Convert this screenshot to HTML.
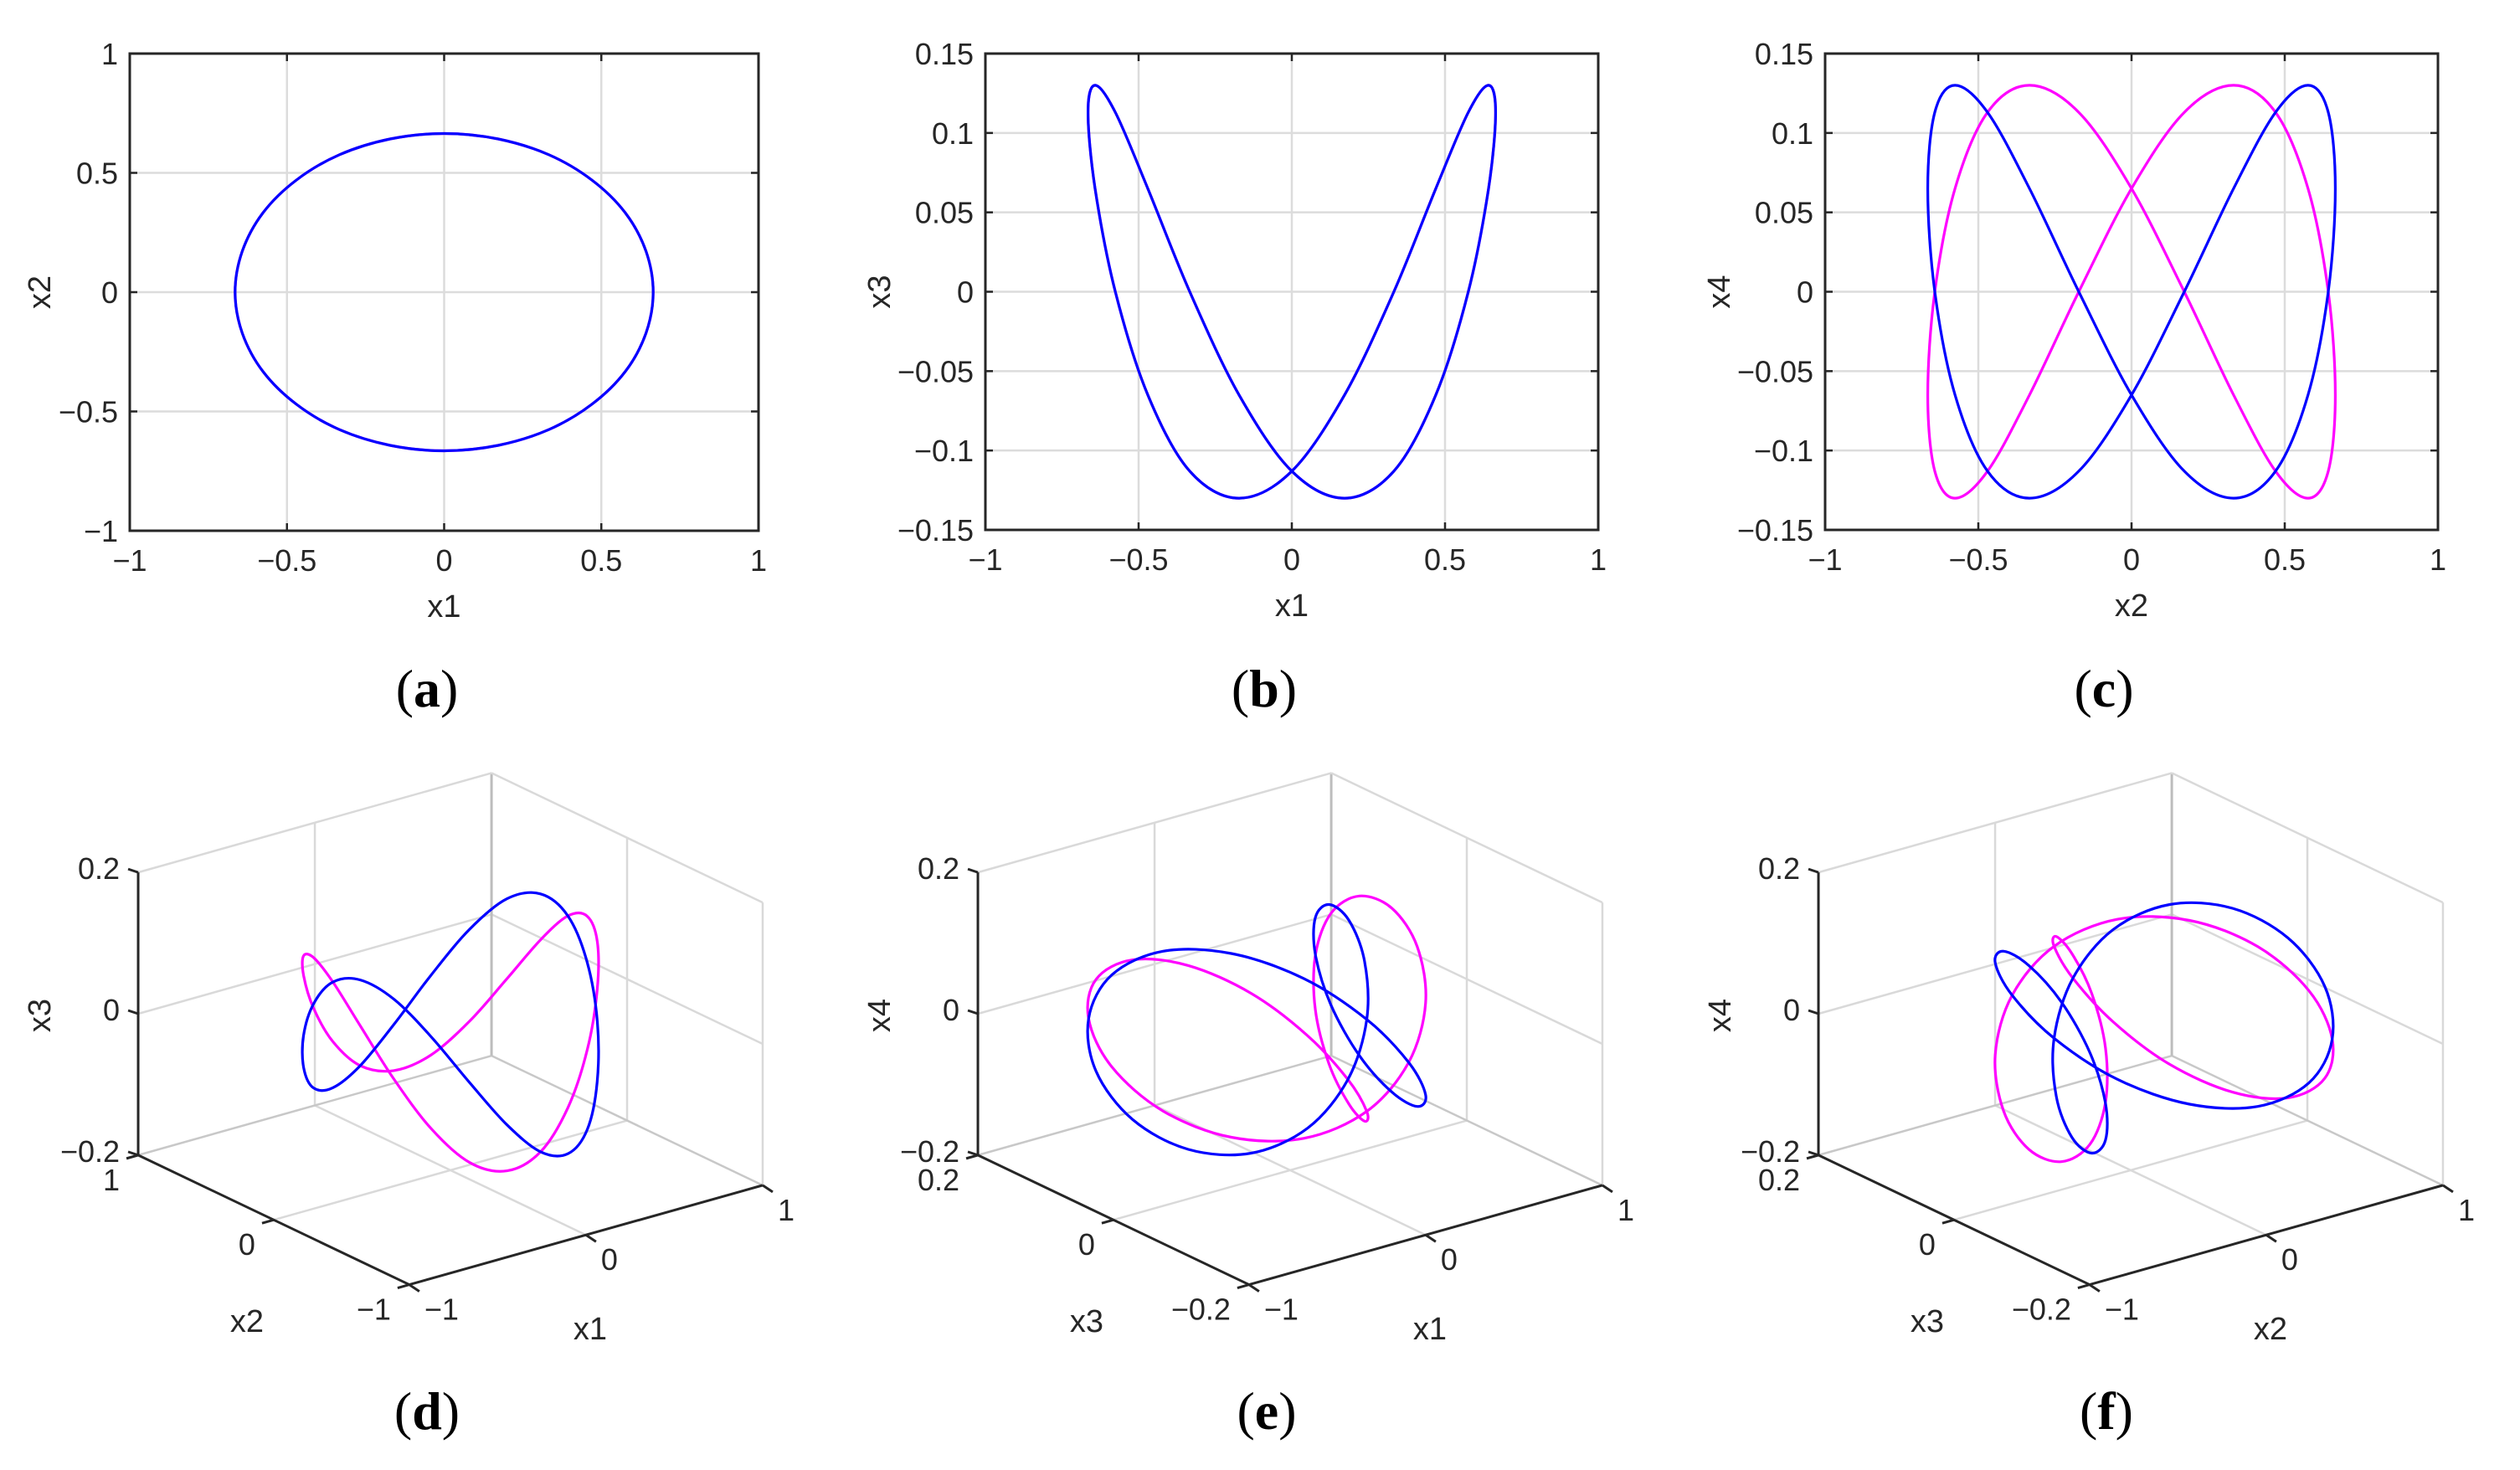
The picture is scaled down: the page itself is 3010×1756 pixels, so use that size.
<!DOCTYPE html>
<html><head><meta charset="utf-8">
<style>
html,body{margin:0;padding:0;background:#fff;}
svg{display:block;font-family:"Liberation Sans",Arial,sans-serif;}
.tk{font-size:36px;fill:#262626;}
.ttl{font-size:38px;fill:#262626;}
.pl{font-family:"Liberation Serif",serif;font-size:64px;fill:#000;}
</style></head>
<body>
<svg id="fig" width="3010" height="1756" viewBox="0 0 3010 1756" xmlns="http://www.w3.org/2000/svg">
<rect width="3010" height="1756" fill="#fff"/>
</svg>
<script>
// ---- data (sampled orbit, 24 points per loop) ----
const blueX1 = [0.665,0.642,0.576,0.470,0.333,0.172,0,-0.172,-0.333,-0.470,-0.576,-0.642,-0.665,-0.642,-0.576,-0.470,-0.333,-0.172,0,0.172,0.333,0.470,0.576,0.642];
const blueX2 = [0,-0.172,-0.333,-0.470,-0.576,-0.642,-0.665,-0.642,-0.576,-0.470,-0.333,-0.172,0,0.172,0.333,0.470,0.576,0.642,0.665,0.642,0.576,0.470,0.333,0.172];
const blueX3 = [0.113,0.065,0,-0.065,-0.113,-0.13,-0.113,-0.065,0,0.065,0.113,0.13,0.113,0.065,0,-0.065,-0.113,-0.13,-0.113,-0.065,0,0.065,0.113,0.13];
const blueX4 = [-0.065,-0.113,-0.13,-0.113,-0.065,0,0.065,0.113,0.13,0.113,0.065,0,-0.065,-0.113,-0.13,-0.113,-0.065,0,0.065,0.113,0.13,0.113,0.065,0];
const magX1 = [0.665,0.642,0.576,0.470,0.333,0.172,0,-0.172,-0.333,-0.470,-0.576,-0.642,-0.665,-0.642,-0.576,-0.470,-0.333,-0.172,0,0.172,0.333,0.470,0.576,0.642];
const magX2 = [0,0.172,0.333,0.470,0.576,0.642,0.665,0.642,0.576,0.470,0.333,0.172,0,-0.172,-0.333,-0.470,-0.576,-0.642,-0.665,-0.642,-0.576,-0.470,-0.333,-0.172];
const magX3 = [0.113,0.065,0,-0.065,-0.113,-0.13,-0.113,-0.065,0,0.065,0.113,0.13,0.113,0.065,0,-0.065,-0.113,-0.13,-0.113,-0.065,0,0.065,0.113,0.13];
const magX4 = [0.065,0.113,0.13,0.113,0.065,0,-0.065,-0.113,-0.13,-0.113,-0.065,0,0.065,0.113,0.13,0.113,0.065,0,-0.065,-0.113,-0.13,-0.113,-0.065,0];
const ticksUnit = [-1,-0.5,0,0.5,1];
const ticksUnitLabels = ["−1","−0.5","0","0.5","1"];
const ticksSmall = [-0.15,-0.1,-0.05,0,0.05,0.1,0.15];
const ticksSmallLabels = ["−0.15","−0.1","−0.05","0","0.05","0.1","0.15"];
const ticks3Unit = [-1,0,1];
const ticks3UnitLabels = ["−1","0","1"];
const ticks3Small = [-0.2,0,0.2];
const ticks3SmallLabels = ["−0.2","0","0.2"];

const NS = "http://www.w3.org/2000/svg";
const svg = document.getElementById('fig');
function mk(tag, attrs, parent){
  const e = document.createElementNS(NS, tag);
  for (const k in attrs) e.setAttribute(k, attrs[k]);
  (parent||svg).appendChild(e);
  return e;
}
function smoothPath(pts){
  const n = pts.length;
  let d = "M" + pts[0][0].toFixed(1) + "," + pts[0][1].toFixed(1);
  for (let i=0;i<n;i++){
    const p0=pts[(i-1+n)%n], p1=pts[i], p2=pts[(i+1)%n], p3=pts[(i+2)%n];
    const c1=[p1[0]+(p2[0]-p0[0])/6, p1[1]+(p2[1]-p0[1])/6];
    const c2=[p2[0]-(p3[0]-p1[0])/6, p2[1]-(p3[1]-p1[1])/6];
    d += "C"+c1[0].toFixed(1)+","+c1[1].toFixed(1)+" "+c2[0].toFixed(1)+","+c2[1].toFixed(1)+" "+p2[0].toFixed(1)+","+p2[1].toFixed(1);
  }
  return d+"Z";
}

// ---- 2D panels ----
function panel2D(name, box, xd, yd, xt, xtl, yt, ytl, xs, ys, xlab, ylab, ylabX, series){
  const g = mk('g', {});
  
  
  const X = v => box.l + (v-xd[0])/(xd[1]-xd[0])*(box.r-box.l);
  const Y = v => box.b - (v-yd[0])/(yd[1]-yd[0])*(box.b-box.t);
  xt.forEach((v,i)=>{
    const l = mk('line',{x1:X(v),x2:X(v),y1:box.t,y2:box.b,stroke:'#dcdcdc','stroke-width':2.5},g);
    
    
    mk('line',{x1:X(v),x2:X(v),y1:box.b,y2:box.b-9,stroke:'#262626','stroke-width':2.5},g);
    mk('line',{x1:X(v),x2:X(v),y1:box.t,y2:box.t+9,stroke:'#262626','stroke-width':2.5},g);
    const t = mk('text',{x:X(v),y:box.b+48,'text-anchor':'middle',class:'tk'},g);
    t.textContent = xtl[i];
    
    
  });
  yt.forEach((v,i)=>{
    const l = mk('line',{x1:box.l,x2:box.r,y1:Y(v),y2:Y(v),stroke:'#dcdcdc','stroke-width':2.5},g);
    
    
    mk('line',{x1:box.l,x2:box.l+9,y1:Y(v),y2:Y(v),stroke:'#262626','stroke-width':2.5},g);
    mk('line',{x1:box.r,x2:box.r-9,y1:Y(v),y2:Y(v),stroke:'#262626','stroke-width':2.5},g);
    const t = mk('text',{x:box.l-14,y:Y(v)+13,'text-anchor':'end',class:'tk'},g);
    t.textContent = ytl[i];
    
    
  });
  series.forEach(s=>{
    const pts = s.x.map((v,i)=>[X(v),Y(s.y[i])]);
    const p = mk('path',{d:smoothPath(pts),fill:'none',stroke:s.c,'stroke-width':3.2,'stroke-linejoin':'round'},g);
    
    
  });
  const r = mk('rect',{x:box.l,y:box.t,width:box.r-box.l,height:box.b-box.t,fill:'none',stroke:'#262626','stroke-width':3},g);
  
  
  const xl = mk('text',{x:(box.l+box.r)/2,y:box.b+103,'text-anchor':'middle',class:'ttl'},g);
  xl.textContent = xlab;
  
  
  const cy = (box.t+box.b)/2;
  const yl = mk('text',{x:ylabX,y:cy,'text-anchor':'middle',class:'ttl',transform:'rotate(-90 '+ylabX+' '+cy+')'},g);
  yl.textContent = ylab;
  
  
}

panel2D('panel-a',{l:155,r:906,t:64,b:634},[-1,1],[-1,1],ticksUnit,ticksUnitLabels,ticksUnit,ticksUnitLabels,null,null,'x1','x2',60,
  [{x:magX1,y:magX2,c:'#ff00ff',n:'magenta-orbit'},{x:blueX1,y:blueX2,c:'#0000ff',n:'blue-orbit'}]);
panel2D('panel-b',{l:1177,r:1909,t:64,b:633},[-1,1],[-0.15,0.15],ticksUnit,ticksUnitLabels,ticksSmall,ticksSmallLabels,null,null,'x1','x3',1063,
  [{x:magX1,y:magX3,c:'#ff00ff',n:'magenta-orbit'},{x:blueX1,y:blueX3,c:'#0000ff',n:'blue-orbit'}]);
panel2D('panel-c',{l:2180,r:2912,t:64,b:633},[-1,1],[-0.15,0.15],ticksUnit,ticksUnitLabels,ticksSmall,ticksSmallLabels,null,null,'x2','x4',2066,
  [{x:magX2,y:magX4,c:'#ff00ff',n:'magenta-orbit'},{x:blueX2,y:blueX4,c:'#0000ff',n:'blue-orbit'}]);

// ---- 3D panels (az -37.5, el 30) ----
function panel3D(name, ox, xr, yr, zr, xt, xtl, yt, ytl, zt, ztl, xlab, ylab, zlab, series){
  const g = mk('g', {});
  
  
  const ca = Math.cos(-37.5*Math.PI/180), sa = Math.sin(-37.5*Math.PI/180);
  const se = 0.5, ce = Math.cos(30*Math.PI/180);
  const cx = 538+ox, cy = 1229, hs = 266, vs = 195;
  const nx = v => (v-xr[0])/(xr[1]-xr[0])*2-1;
  const ny = v => (v-yr[0])/(yr[1]-yr[0])*2-1;
  const nz = v => (v-zr[0])/(zr[1]-zr[0])*2-1;
  const P = (X,Y,Z) => [cx + hs*(ca*X + sa*Y), cy - vs*(-X*sa*se + Y*ca*se + Z*ce)];
  const line = (a,b,col,w,nm) => {
    const p=P(...a), q=P(...b);
    const l = mk('line',{x1:p[0],y1:p[1],x2:q[0],y2:q[1],stroke:col,'stroke-width':w},g);
    
    
  };
  const gc = '#d9d9d9';
  line([nx(0),-1,-1],[nx(0),1,-1],gc,2.5,'floor-grid');
  line([-1,ny(0),-1],[1,ny(0),-1],gc,2.5,'floor-grid');
  line([1,ny(0),-1],[1,ny(0),1],gc,2.5,'wall-grid');
  line([1,-1,nz(0)],[1,1,nz(0)],gc,2.5,'wall-grid');
  line([nx(0),1,-1],[nx(0),1,1],gc,2.5,'wall-grid');
  line([-1,1,nz(0)],[1,1,nz(0)],gc,2.5,'wall-grid');
  line([1,-1,-1],[1,1,-1],'#c8c8c8',2.5,'box-edge');
  line([-1,1,-1],[1,1,-1],'#c8c8c8',2.5,'box-edge');
  line([1,-1,-1],[1,-1,1],'#d9d9d9',2.5,'box-edge');
  line([1,1,-1],[1,1,1],'#bdbdbd',3,'box-edge');
  line([1,-1,1],[1,1,1],'#d9d9d9',2.5,'box-edge');
  line([-1,1,1],[1,1,1],'#d9d9d9',2.5,'box-edge');
  series.forEach(s=>{
    const pts = s.x.map((v,i)=>P(nx(v),ny(s.y[i]),nz(s.z[i])));
    const p = mk('path',{d:smoothPath(pts),fill:'none',stroke:s.c,'stroke-width':3.2,'stroke-linejoin':'round'},g);
    
    
  });
  line([-1,-1,-1],[1,-1,-1],'#262626',3,'x-axis-line');
  line([-1,-1,-1],[-1,1,-1],'#262626',3,'y-axis-line');
  line([-1,1,-1],[-1,1,1],'#262626',3,'z-axis-line');
  xt.forEach((v,i)=>{
    const p = P(nx(v),-1,-1);
    mk('line',{x1:p[0],y1:p[1],x2:p[0]+12,y2:p[1]+8,stroke:'#262626','stroke-width':3},g);
    const t = mk('text',{x:p[0]+18,y:p[1]+42,'text-anchor':'start',class:'tk'},g);
    t.textContent = xtl[i];
    
    
  });
  yt.forEach((v,i)=>{
    const p = P(-1,ny(v),-1);
    mk('line',{x1:p[0],y1:p[1],x2:p[0]-14,y2:p[1]+4,stroke:'#262626','stroke-width':3},g);
    const t = mk('text',{x:p[0]-22,y:p[1]+42,'text-anchor':'end',class:'tk'},g);
    t.textContent = ytl[i];
    
    
  });
  zt.forEach((v,i)=>{
    const p = P(-1,1,nz(v));
    mk('line',{x1:p[0],y1:p[1],x2:p[0]-12,y2:p[1]-4,stroke:'#262626','stroke-width':3},g);
    const t = mk('text',{x:p[0]-22,y:p[1]+8,'text-anchor':'end',class:'tk'},g);
    t.textContent = ztl[i];
    
    
  });
  const a1 = mk('text',{x:705+ox,y:1600,'text-anchor':'middle',class:'ttl'},g);
  a1.textContent = xlab;
  
  
  const a2 = mk('text',{x:295+ox,y:1591,'text-anchor':'middle',class:'ttl'},g);
  a2.textContent = ylab;
  
  
  const zx = 60+ox, zy = 1213;
  const a3 = mk('text',{x:zx,y:zy,'text-anchor':'middle',class:'ttl',transform:'rotate(-90 '+zx+' '+zy+')'},g);
  a3.textContent = zlab;
  
  
}

panel3D('panel-d',0,[-1,1],[-1,1],[-0.2,0.2],ticks3Unit,ticks3UnitLabels,ticks3Unit,ticks3UnitLabels,ticks3Small,ticks3SmallLabels,'x1','x2','x3',
  [{x:magX1,y:magX2,z:magX3,c:'#ff00ff',n:'magenta-orbit'},{x:blueX1,y:blueX2,z:blueX3,c:'#0000ff',n:'blue-orbit'}]);
panel3D('panel-e',1003,[-1,1],[-0.2,0.2],[-0.2,0.2],ticks3Unit,ticks3UnitLabels,ticks3Small,ticks3SmallLabels,ticks3Small,ticks3SmallLabels,'x1','x3','x4',
  [{x:magX1,y:magX3,z:magX4,c:'#ff00ff',n:'magenta-orbit'},{x:blueX1,y:blueX3,z:blueX4,c:'#0000ff',n:'blue-orbit'}]);
panel3D('panel-f',2007,[-1,1],[-0.2,0.2],[-0.2,0.2],ticks3Unit,ticks3UnitLabels,ticks3Small,ticks3SmallLabels,ticks3Small,ticks3SmallLabels,'x2','x3','x4',
  [{x:magX2,y:magX3,z:magX4,c:'#ff00ff',n:'magenta-orbit'},{x:blueX2,y:blueX3,z:blueX4,c:'#0000ff',n:'blue-orbit'}]);

// ---- panel captions ----
const capText = ["(a)","(b)","(c)","(d)","(e)","(f)"];
const capName = ["caption-a","caption-b","caption-c","caption-d","caption-e","caption-f"];
const capX = [510,1510,2513,510,1513,2516];
const capY = [844,844,844,1707,1707,1707];
capText.forEach((s,i)=>{
  const t = mk('text',{x:capX[i],y:capY[i],'text-anchor':'middle',class:'pl'});
  const a = document.createElementNS(NS,'tspan'); a.textContent='('; t.appendChild(a);
  const b = document.createElementNS(NS,'tspan'); b.setAttribute('font-weight','bold'); b.textContent=s.charAt(1); t.appendChild(b);
  const c = document.createElementNS(NS,'tspan'); c.textContent=')'; t.appendChild(c);
  
  
});
</script>
</body></html>
